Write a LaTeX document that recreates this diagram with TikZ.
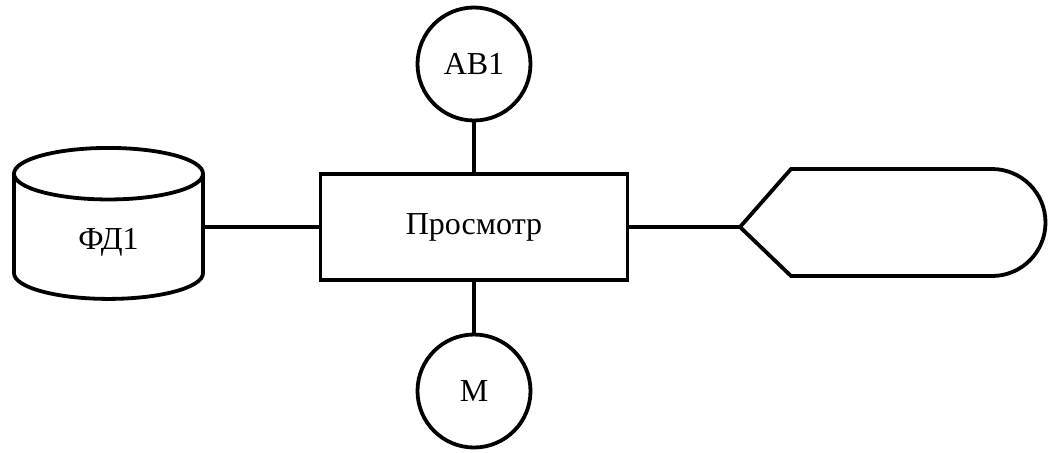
\documentclass[tikz,border=0pt]{standalone}
\usepackage{fontspec}
\setmainfont{Liberation Serif}
\usetikzlibrary{shapes.geometric}

\begin{document}
\begin{tikzpicture}[x=0.5pt, y=-0.5pt, line width=1.9pt, font=\fontsize{16}{19}\selectfont,
    proc/.style={draw, rectangle, minimum width=153.5pt, minimum height=53pt},
    term/.style={draw, circle, minimum size=56.5pt, inner sep=0pt},
    store/.style={draw, cylinder, shape border rotate=90, aspect=0.7, minimum width=94.5pt, minimum height=75.5pt}]
    \useasboundingbox (0,0) rectangle (1054,452);
    \node[proc] (View) at (474,227) {Просмотр};
    \node[term] (AB) at (474,64) {АВ1};
    \node[term] (M) at (474,391) {М};
    \node[store] (FD) at (108.5,242) {ФД1};
    \coordinate (Disp) at (740,227);

    \draw (Disp) -- (791,169) -- (992,169) arc[start angle=90, end angle=-90, radius=26.75pt] -- (791,276) -- cycle;

    \draw (AB) -- (View);
    \draw (View) -- (M);
    \draw (View.west -| FD.east) -- (View.west);
    \draw (View) -- (Disp);
\end{tikzpicture}
\end{document}
